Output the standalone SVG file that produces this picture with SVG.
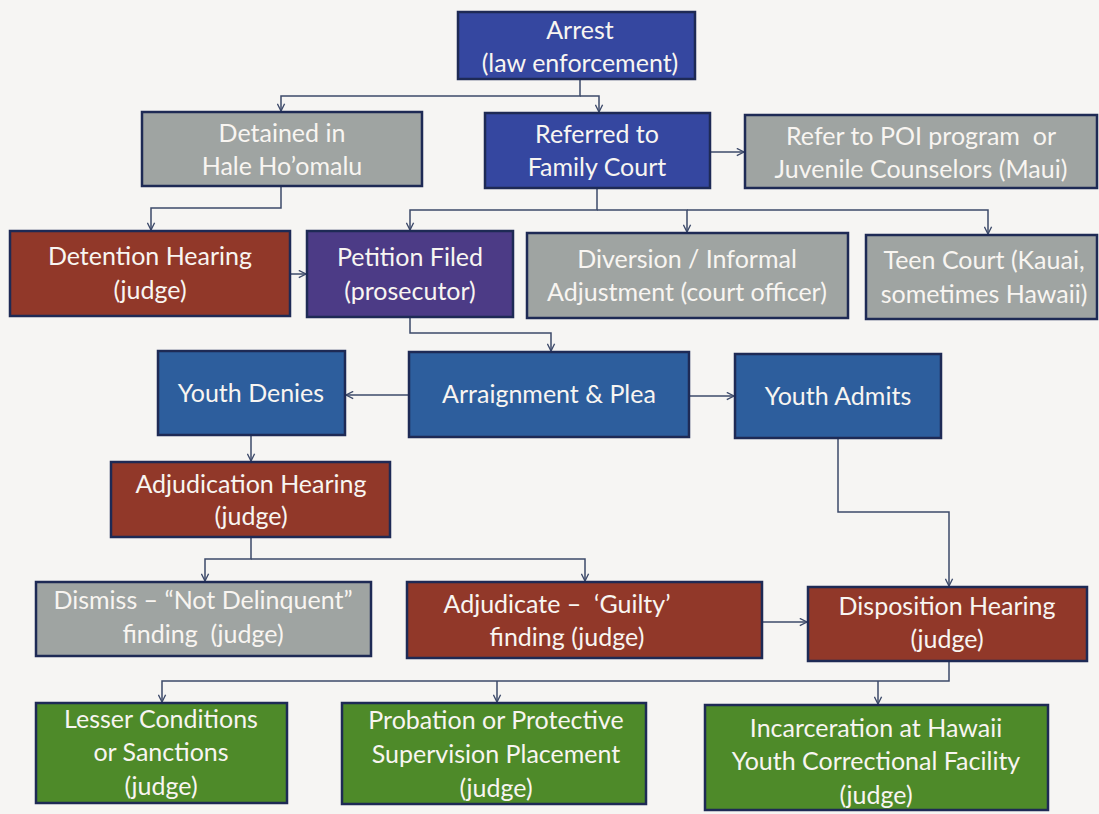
<svg xmlns="http://www.w3.org/2000/svg" width="1099" height="814" viewBox="0 0 1099 814">
<style>
.box{stroke:#1e2a55;stroke-width:2.5}
.blue1{fill:#3547a0}
.blue2{fill:#2d5e9d}
.purple{fill:#4c3b86}
.red{fill:#913829}
.gray{fill:#9fa4a2}
.green{fill:#4e8a29}
text{font-family:Lato,"Open Sans","Liberation Sans",sans-serif;font-size:25px;fill:#f8f5f1;text-anchor:middle;white-space:pre}
.conn path{fill:none;stroke:#3d4a6a;stroke-width:1.5}
</style>
<defs>
<marker id="ah" viewBox="0 0 10 10" refX="9" refY="5" markerWidth="9" markerHeight="9" markerUnits="userSpaceOnUse" orient="auto">
<path d="M1,1 L9,5 L1,9" fill="none" stroke="#3d4a6a" stroke-width="1.5"/>
</marker>
</defs>
<rect width="1099" height="814" fill="#f6f5f3"/>
<g class="conn">
<path d="M580,79 V96 H281 V111" marker-end="url(#ah)"/>
<path d="M580,96 H599 V112" marker-end="url(#ah)"/>
<path d="M710,152 H744" marker-end="url(#ah)"/>
<path d="M281,186 V208 H151 V230" marker-end="url(#ah)"/>
<path d="M290,274 H306" marker-end="url(#ah)"/>
<path d="M597,188 V210 H410 V230" marker-end="url(#ah)"/>
<path d="M597,210 H687 V232" marker-end="url(#ah)"/>
<path d="M687,210 H988 V234" marker-end="url(#ah)"/>
<path d="M410,317 V333 H551 V351" marker-end="url(#ah)"/>
<path d="M409,395 H346" marker-end="url(#ah)"/>
<path d="M689,396 H734" marker-end="url(#ah)"/>
<path d="M251,435 V461" marker-end="url(#ah)"/>
<path d="M251,537 V559 H205 V581" marker-end="url(#ah)"/>
<path d="M251,559 H585 V581" marker-end="url(#ah)"/>
<path d="M838,438 V512 H949 V586" marker-end="url(#ah)"/>
<path d="M762,622 H807" marker-end="url(#ah)"/>
<path d="M949,661 V681 H162 V702" marker-end="url(#ah)"/>
<path d="M497,681 V702" marker-end="url(#ah)"/>
<path d="M878,681 V704" marker-end="url(#ah)"/>
</g>
<g id="arrest"><rect class="box blue1" x="458" y="12" width="237" height="67"/><text x="580" y="39">Arrest</text><text x="580" y="72">(law enforcement)</text></g>
<g id="detained"><rect class="box gray" x="142" y="112" width="280" height="74"/><text x="282" y="142">Detained in</text><text x="282" y="175">Hale Ho’omalu</text></g>
<g id="referred"><rect class="box blue1" x="485" y="113" width="225" height="75"/><text x="597" y="143">Referred to</text><text x="597" y="176">Family Court</text></g>
<g id="poi"><rect class="box gray" x="745" y="115" width="352" height="73"/><text x="921" y="145" xml:space="preserve">Refer to POI program  or</text><text x="921" y="178">Juvenile Counselors (Maui)</text></g>
<g id="detention"><rect class="box red" x="10" y="231" width="280" height="85"/><text x="150" y="265">Detention Hearing</text><text x="150" y="299">(judge)</text></g>
<g id="petition"><rect class="box purple" x="307" y="231" width="206" height="86"/><text x="410" y="266">Petition Filed</text><text x="410" y="300">(prosecutor)</text></g>
<g id="diversion"><rect class="box gray" x="527" y="233" width="321" height="85"/><text x="687" y="268">Diversion / Informal</text><text x="687" y="301">Adjustment (court officer)</text></g>
<g id="teen"><rect class="box gray" x="866" y="235" width="231" height="84"/><text x="984" y="269">Teen Court (Kauai,</text><text x="984" y="303">sometimes Hawaii)</text></g>
<g id="denies"><rect class="box blue2" x="158" y="351" width="187" height="84"/><text x="251" y="402">Youth Denies</text></g>
<g id="arraignment"><rect class="box blue2" x="409" y="352" width="280" height="85"/><text x="549" y="403">Arraignment &amp; Plea</text></g>
<g id="admits"><rect class="box blue2" x="735" y="354" width="206" height="84"/><text x="838" y="405">Youth Admits</text></g>
<g id="adjudication"><rect class="box red" x="111" y="462" width="279" height="75"/><text x="251" y="493">Adjudication Hearing</text><text x="251" y="525">(judge)</text></g>
<g id="dismiss"><rect class="box gray" x="36" y="582" width="335" height="74"/><text x="203" y="609">Dismiss – “Not Delinquent”</text><text x="203" y="643" xml:space="preserve">finding  (judge)</text></g>
<g id="adjudicate"><rect class="box red" x="407" y="582" width="355" height="76"/><text x="557" y="613" xml:space="preserve">Adjudicate –  ‘Guilty’</text><text x="567" y="646">finding (judge)</text></g>
<g id="disposition"><rect class="box red" x="808" y="587" width="279" height="74"/><text x="947" y="615">Disposition Hearing</text><text x="947" y="648">(judge)</text></g>
<g id="lesser"><rect class="box green" x="36" y="703" width="251" height="100"/><text x="161" y="728">Lesser Conditions</text><text x="161" y="761">or Sanctions</text><text x="161" y="795">(judge)</text></g>
<g id="probation"><rect class="box green" x="342" y="703" width="304" height="101"/><text x="496" y="729">Probation or Protective</text><text x="496" y="763">Supervision Placement</text><text x="496" y="797">(judge)</text></g>
<g id="incarceration"><rect class="box green" x="705" y="705" width="343" height="105"/><text x="876" y="737">Incarceration at Hawaii</text><text x="876" y="770">Youth Correctional Facility</text><text x="876" y="804">(judge)</text></g>
</svg>
